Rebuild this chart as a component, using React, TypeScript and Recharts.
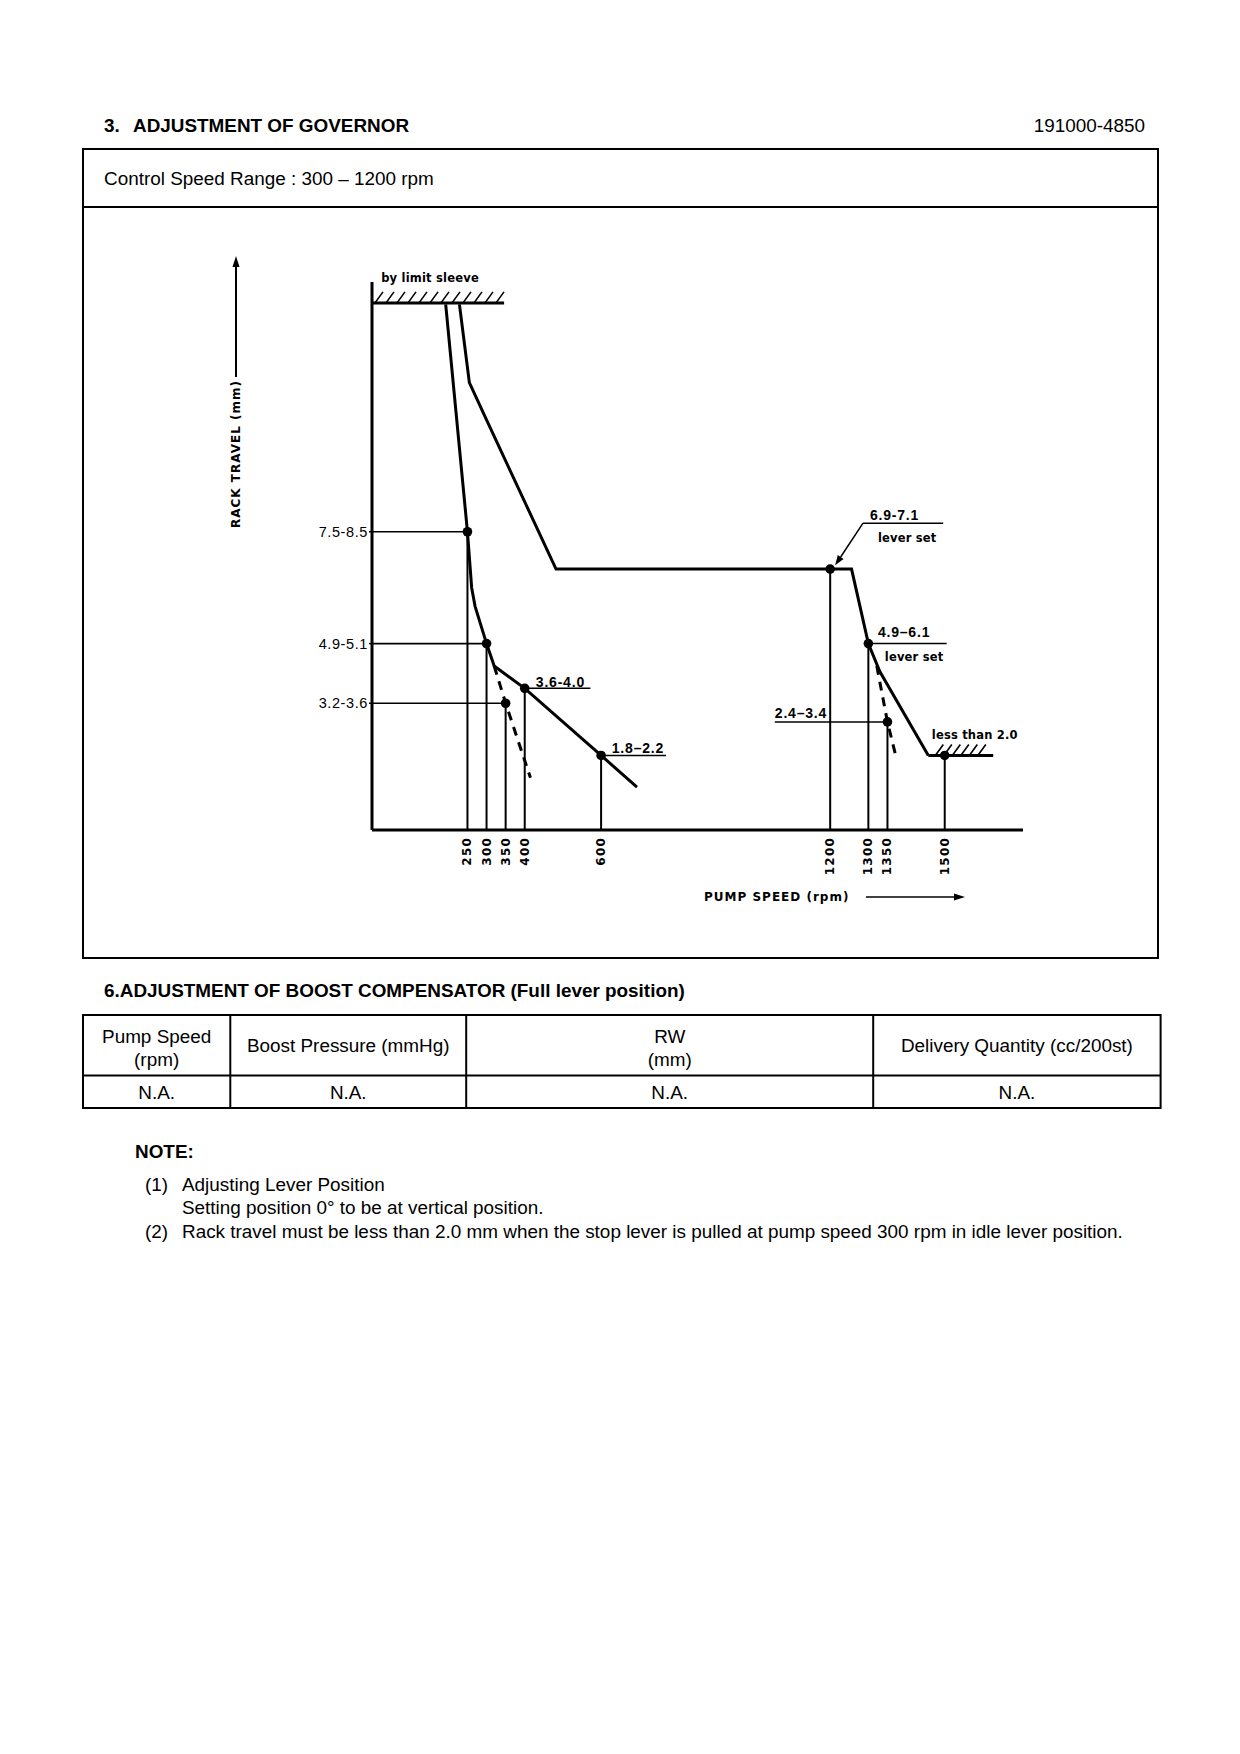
import React from 'react'
import {
  ComposedChart, Line, Scatter, XAxis, YAxis, ReferenceLine, ReferenceDot,
} from 'recharts'

// pump speed (rpm) / rack travel (mm)
const rpmTicks = [250, 300, 350, 400, 600, 1200, 1300, 1350, 1500]
const rackTicks = [3.4, 5.0, 8.0]
const rackTickLabels = ['3.2-3.6', '4.9-5.1', '7.5-8.5']

// set points, one per speed tick
const pointRack = [8.0, 5.0, 3.4, 3.8, 2.0, 7.0, 5.0, 2.9, 2.0]

// full lever curve
const fullRpm = [193, 250, 261, 270, 300, 320, 400, 600, 694]
const fullRack = [14.1, 8.0, 6.5, 6.0, 5.0, 4.4, 3.8, 2.0, 1.15]

// lever set curve (idle droop, flat, high speed droop)
const leverRpm = [229, 255, 300, 482, 1200, 1256, 1300, 1330, 1457]
const leverRack = [14.1, 12.0, 11.0, 7.0, 7.0, 7.0, 5.0, 4.25, 2.0]

// dashed stop lines
const stopLowRpm = [320, 350, 415]
const stopLowRack = [4.4, 3.4, 1.4]
const stopHighRpm = [1322, 1350, 1374]
const stopHighRack = [4.4, 2.9, 1.9]

// hatched stops
const sleeveRpm = [0, 346]
const sleeveRack = 14.14
const minStopRpm = [1457, 1627]
const minStopRack = 2.0

// label rules (underlines): from / to rpm, rack
const ruleFrom = [400, 600, 1286, 1300, 1055]
const ruleTo = [572, 770, 1496, 1505, 1350]
const ruleRack = [3.8, 2.0, 8.23, 5.0, 2.9]

// leader arrow for "6.9-7.1"
const arrowRpm = [1286, 1213]
const arrowRack = [8.23, 7.1]

const labelText = ['by limit sleeve', '3.6-4.0', '1.8–2.2', '6.9-7.1', 'lever set', '4.9–6.1', 'lever set', '2.4–3.4', 'less than 2.0']
const labelRpm = [24, 429, 628, 1304, 1325, 1325, 1343, 1055, 1466]
const labelRack = [14.81, 3.98, 2.2, 8.45, 7.83, 5.31, 4.65, 3.14, 2.55]

const pts = (rpm: number[], rack: number[]) => rpm.map((r, i) => ({ rpm: r, mm: rack[i] }))

const points = pts(rpmTicks, pointRack)

function RpmTick({ x, y, payload }: any) {
  return (
    <text
      x={x} y={y} transform={`rotate(-90 ${x} ${y})`}
      textAnchor="end" dominantBaseline="central"
      fontFamily="'DejaVu Sans', sans-serif" fontWeight="bold" fontSize={12}
      letterSpacing={1.2} fill="#000"
    >
      {payload.value}
    </text>
  )
}

function RackTick({ x, y, payload }: any) {
  const i = rackTicks.indexOf(payload.value)
  return (
    <text
      x={x} y={y} textAnchor="end" dominantBaseline="central"
      fontFamily="'Liberation Sans', Arial, sans-serif" fontSize={14.5}
      letterSpacing={0.6} fill="#000"
    >
      {rackTickLabels[i]}
    </text>
  )
}

const hatch = (inset: number, gap: number) => (p: any) => {
  const { x1, y1, x2 } = p
  const d: string[] = []
  for (let x = x1 + inset; x + 8 <= x2 + 1; x += gap) d.push(`M${x},${y1} l8,-11`)
  return (
    <g>
      <line x1={x1} y1={y1} x2={x2} y2={y1} stroke="#000" strokeWidth={3} />
      <path d={d.join(' ')} stroke="#000" strokeWidth={1.6} fill="none" />
    </g>
  )
}

function ArrowSeg(p: any) {
  const { x1, y1, x2, y2 } = p
  const a = Math.atan2(y2 - y1, x2 - x1)
  const bx = x2 - 10 * Math.cos(a)
  const by = y2 - 10 * Math.sin(a)
  const w = 3.5
  const tri = `${x2},${y2} ${bx - w * Math.sin(a)},${by + w * Math.cos(a)} ${bx + w * Math.sin(a)},${by - w * Math.cos(a)}`
  return (
    <g>
      <line x1={x1} y1={y1} x2={bx} y2={by} stroke="#000" strokeWidth={1.5} />
      <polygon points={tri} fill="#000" />
    </g>
  )
}

function Dot(p: any) {
  return <circle cx={p.cx} cy={p.cy} r={4.8} fill="#000" />
}

function GovernorChart() {
  return (
    <ComposedChart width={900} height={720} margin={{ top: 52, right: 77, bottom: 70, left: 112 }}>
      <XAxis
        type="number" dataKey="rpm" domain={[0, 1705]} ticks={rpmTicks} interval={0}
        allowDataOverflow tick={<RpmTick />} tickLine={false} tickSize={0} tickMargin={7}
        axisLine={{ stroke: '#000', strokeWidth: 3 }} height={50}
      />
      <YAxis
        type="number" dataKey="mm" domain={[0, 14.7]} ticks={rackTicks} interval={0}
        allowDataOverflow tick={<RackTick />} tickSize={3} tickMargin={1}
        tickLine={{ stroke: '#000', strokeWidth: 1.5 }}
        axisLine={{ stroke: '#000', strokeWidth: 3 }} width={60}
      />

      {/* drop lines from the set points to the speed axis */}
      {points.map((p, i) => (
        <Line
          key={`drop${i}`} data={[p, { rpm: p.rpm, mm: 0 }]} dataKey="mm"
          stroke="#000" strokeWidth={2} dot={false} isAnimationActive={false} type="linear"
        />
      ))}
      {/* guides from the rack axis */}
      {points.slice(0, 3).map((p, i) => (
        <Line
          key={`guide${i}`} data={[{ rpm: 0, mm: p.mm }, p]} dataKey="mm"
          stroke="#000" strokeWidth={1.6} dot={false} isAnimationActive={false} type="linear"
        />
      ))}

      <Line data={pts(fullRpm, fullRack)} dataKey="mm" stroke="#000" strokeWidth={3}
        dot={false} isAnimationActive={false} type="linear" />
      <Line data={pts(leverRpm, leverRack)} dataKey="mm" stroke="#000" strokeWidth={3}
        dot={false} isAnimationActive={false} type="linear" />
      <Line data={pts(stopLowRpm, stopLowRack)} dataKey="mm" stroke="#000" strokeWidth={3}
        strokeDasharray="9 7" dot={false} isAnimationActive={false} type="linear" />
      <Line data={pts(stopHighRpm, stopHighRack)} dataKey="mm" stroke="#000" strokeWidth={3}
        strokeDasharray="9 7" dot={false} isAnimationActive={false} type="linear" />

      {ruleFrom.map((f, i) => (
        <ReferenceLine
          key={`rule${i}`} segment={[{ x: f, y: ruleRack[i] }, { x: ruleTo[i], y: ruleRack[i] }]}
          stroke="#000" strokeWidth={1.5} ifOverflow="visible"
        />
      ))}
      <ReferenceLine
        segment={[{ x: arrowRpm[0], y: arrowRack[0] }, { x: arrowRpm[1], y: arrowRack[1] }]}
        shape={ArrowSeg} ifOverflow="visible"
      />
      <ReferenceLine
        segment={[{ x: sleeveRpm[0], y: sleeveRack }, { x: sleeveRpm[1], y: sleeveRack }]}
        shape={hatch(3, 11)} ifOverflow="visible"
      />
      <ReferenceLine
        segment={[{ x: minStopRpm[0], y: minStopRack }, { x: minStopRpm[1], y: minStopRack }]}
        shape={hatch(7, 8.5)} ifOverflow="visible"
      />

      <Scatter data={points} dataKey="mm" shape={Dot} isAnimationActive={false} />

      {labelText.map((t, i) => {
        const word = /[a-z]/.test(t)
        return (
          <ReferenceDot
            key={`lab${i}`} x={labelRpm[i]} y={labelRack[i]} ifOverflow="visible"
            shape={(p: any) => (
              <text
                x={p.cx} y={p.cy} dominantBaseline="central" fill="#000"
                fontFamily={word ? "'DejaVu Sans', sans-serif" : "'Liberation Sans', Arial, sans-serif"}
                fontWeight="bold" fontSize={word ? 11.5 : 14} letterSpacing={word ? 0.2 : 0.8}
              >
                {t}
              </text>
            )}
          />
        )
      })}
    </ComposedChart>
  )
}

const F = "'Liberation Sans', Arial, Helvetica, sans-serif"
const AX = "'DejaVu Sans', sans-serif"
const FS = 18.9

export default function App() {
  const colX = [83, 230.3, 466.2, 873.2, 1160.6]
  const mid = (i: number) => (colX[i] + colX[i + 1]) / 2
  return (
    <div style={{ position: 'absolute', left: 0, top: 0, width: 1240, height: 1754, background: '#fff' }}>
      <svg width={1240} height={1754} style={{ position: 'absolute', left: 0, top: 0 }} fontFamily={F} fill="#000">
        <text x={104} y={132} fontSize={FS} fontWeight="bold">3.</text>
        <text x={133} y={132} fontSize={FS} fontWeight="bold">ADJUSTMENT OF GOVERNOR</text>
        <text x={1145} y={132} fontSize={FS} textAnchor="end">191000-4850</text>

        <rect x={83} y={149} width={1075} height={809} fill="none" stroke="#000" strokeWidth={2} />
        <line x1={83} y1={207} x2={1158} y2={207} stroke="#000" strokeWidth={2} />
        <text x={104} y={185} fontSize={FS}>Control Speed Range : 300 – 1200 rpm</text>

        {/* axis titles */}
        <text
          x={236} y={454} transform="rotate(-90 236 454)" textAnchor="middle" dominantBaseline="central"
          fontFamily={AX} fontWeight="bold" fontSize={12} letterSpacing={1}
        >
          RACK TRAVEL (mm)
        </text>
        <line x1={236} y1={377} x2={236} y2={266} stroke="#000" strokeWidth={2} />
        <polygon points="236,256 232.5,267 239.5,267" fill="#000" />

        <text x={704} y={897} dominantBaseline="central" fontFamily={AX} fontWeight="bold" fontSize={12} letterSpacing={1}>
          PUMP SPEED (rpm)
        </text>
        <line x1={866} y1={897} x2={955} y2={897} stroke="#000" strokeWidth={1.5} />
        <polygon points="965,897 954,893.5 954,900.5" fill="#000" />

        <text x={104} y={997} fontSize={FS} fontWeight="bold">6.ADJUSTMENT OF BOOST COMPENSATOR (Full lever position)</text>

        <rect x={83} y={1015} width={1077.6} height={93} fill="none" stroke="#000" strokeWidth={2} />
        <line x1={83} y1={1075.6} x2={1160.6} y2={1075.6} stroke="#000" strokeWidth={2} />
        {colX.slice(1, 4).map((x) => (
          <line key={x} x1={x} y1={1015} x2={x} y2={1108} stroke="#000" strokeWidth={2} />
        ))}
        <g fontSize={FS} textAnchor="middle">
          <text x={mid(0)} y={1043}>Pump Speed</text>
          <text x={mid(0)} y={1065.5}>(rpm)</text>
          <text x={mid(1)} y={1052}>Boost Pressure (mmHg)</text>
          <text x={mid(2)} y={1043}>RW</text>
          <text x={mid(2)} y={1065.5}>(mm)</text>
          <text x={mid(3)} y={1052}>Delivery Quantity (cc/200st)</text>
          {[0, 1, 2, 3].map((i) => (
            <text key={i} x={mid(i)} y={1099}>N.A.</text>
          ))}
        </g>

        <text x={135} y={1158} fontSize={FS} fontWeight="bold">NOTE:</text>
        <g fontSize={FS}>
          <text x={145} y={1190.5}>(1)</text>
          <text x={182} y={1190.5}>Adjusting Lever Position</text>
          <text x={182} y={1214}>Setting position 0° to be at vertical position.</text>
          <text x={145} y={1237.5}>(2)</text>
          <text x={182} y={1237.5}>Rack travel must be less than 2.0 mm when the stop lever is pulled at pump speed 300 rpm in idle lever position.</text>
        </g>
      </svg>
      <div style={{ position: 'absolute', left: 200, top: 230 }}>
        <GovernorChart />
      </div>
    </div>
  )
}
